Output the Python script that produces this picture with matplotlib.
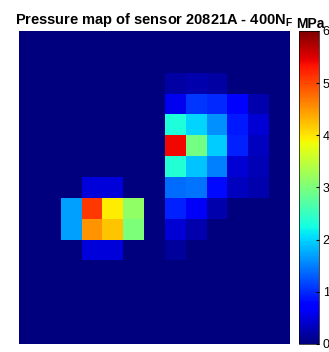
import numpy as np
import matplotlib
matplotlib.use("Agg")
import matplotlib.pyplot as plt

plt.rcParams["font.family"] = ["Liberation Sans", "DejaVu Sans"]
plt.rcParams["mathtext.fontset"] = "custom"
plt.rcParams["mathtext.bf"] = "Liberation Sans:bold"

# pressure grid (MPa), 15 rows x 13 columns
rows = [
    [0, 0, 0, 0, 0, 0, 0, 0, 0, 0, 0, 0, 0],
    [0, 0, 0, 0, 0, 0, 0, 0, 0, 0, 0, 0, 0],
    [0, 0, 0, 0, 0, 0, 0, 0.2, 0.25, 0.2, 0, 0, 0],
    [0, 0, 0, 0, 0, 0, 0, 0.6, 1.07, 1.0, 0.7, 0.25, 0],
    [0, 0, 0, 0, 0, 0, 0, 2.3, 2.0, 1.6, 0.9, 0.45, 0],
    [0, 0, 0, 0, 0, 0, 0, 5.4, 2.95, 1.95, 0.95, 0.35, 0],
    [0, 0, 0, 0, 0, 0, 0, 2.35, 1.9, 1.5, 0.45, 0.3, 0],
    [0, 0, 0, 0.48, 0.48, 0, 0, 1.4, 1.45, 0.8, 0.35, 0.25, 0],
    [0, 0, 1.7, 5.1, 3.95, 3.15, 0, 0.95, 0.65, 0.25, 0, 0, 0],
    [0, 0, 1.7, 4.5, 4.2, 3.0, 0, 0.45, 0.25, 0, 0, 0, 0],
    [0, 0, 0, 0.48, 0.48, 0, 0, 0.15, 0, 0, 0, 0, 0],
    [0, 0, 0, 0, 0, 0, 0, 0, 0, 0, 0, 0, 0],
    [0, 0, 0, 0, 0, 0, 0, 0, 0, 0, 0, 0, 0],
    [0, 0, 0, 0, 0, 0, 0, 0, 0, 0, 0, 0, 0],
    [0, 0, 0, 0, 0, 0, 0, 0, 0, 0, 0, 0, 0],
]
cbar_ticks = [0, 1, 2, 3, 4, 5, 6]

pressure = np.array(rows)

fig = plt.figure(figsize=(3.29, 3.52), dpi=100)
ax = fig.add_axes([0.058, 0.023, 0.821, 0.889])
cax = fig.add_axes([0.909, 0.023, 0.061, 0.889])

im = ax.imshow(pressure, cmap="jet", vmin=0, vmax=6, aspect="auto",
               interpolation="nearest")
ax.set_xticks([])
ax.set_yticks([])
for s in ax.spines.values():
    s.set_visible(False)

ax.set_title("Pressure map of sensor 20821A - 400N$_\\mathbf{F}$",
             fontsize=10.5, fontweight="bold", pad=5)

cb = fig.colorbar(im, cax=cax, ticks=cbar_ticks)
cb.outline.set_linewidth(0.5)
cax.tick_params(labelsize=9, length=2, direction="in", pad=2.5)
cax.text(0.55, 1.0, "MPa", transform=cax.transAxes, ha="center", va="bottom",
         fontsize=10, fontweight="bold")

fig.savefig("out.png", dpi=100)
